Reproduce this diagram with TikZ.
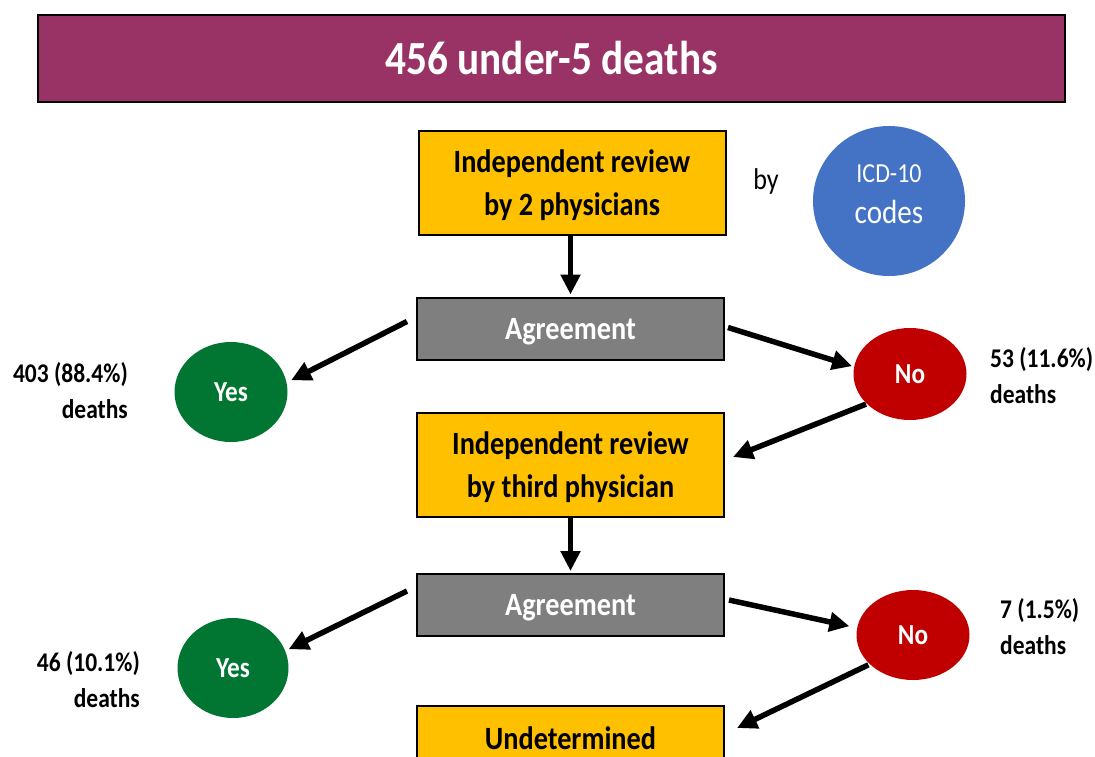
\documentclass[tikz,border=0pt]{standalone}
\usepackage{fontspec}
\setmainfont{Carlito}[FakeStretch=0.87]
\usetikzlibrary{shapes.geometric,arrows.meta}
\definecolor{plum}{RGB}{153,51,102}
\definecolor{amber}{RGB}{255,192,0}
\definecolor{midgray}{RGB}{127,127,127}
\definecolor{icdblue}{RGB}{68,114,196}
\definecolor{darkred}{RGB}{192,0,0}
\definecolor{okgreen}{RGB}{0,118,50}
\tikzset{
  stepbox/.style={draw=black, line width=2pt, fill=amber, minimum width=307pt, inner sep=0pt, align=center, text depth=0pt, font=\bfseries\fontsize{32.5}{43}\selectfont},
  agreebox/.style={draw=black, line width=2pt, fill=midgray, text=white, minimum width=307pt, minimum height=62pt, inner sep=0pt, text depth=0pt, font=\bfseries\fontsize{32.5}{43}\selectfont},
  roundnode/.style={ellipse, inner sep=0pt, text=white, font=\bfseries\fontsize{29}{34}\selectfont},
  countlabel/.style={inner sep=0pt, font=\bfseries\fontsize{27}{36}\selectfont},
  arr/.style={line width=5.5pt, -{Triangle[length=20pt,width=19pt]}},
}
\begin{document}
\begin{tikzpicture}[x=1pt,y=-1pt]
\clip (0,0) rectangle (1095,756);
\fill[white] (0,0) rectangle (1095,756);
% title
\node[draw=black, line width=2pt, fill=plum, text=white, minimum width=1027pt, minimum height=87pt, inner sep=0pt, font=\bfseries\fontsize{47.5}{55}\selectfont] (title) at (551.5,58.5) {456 under-5 deaths};
% first stage
\node[stepbox, minimum height=104pt] (box1) at (572,183) {Independent review\\by 2 physicians};
\node[inner sep=0pt, font=\fontsize{30}{34}\selectfont] (by) at (766,181) {by};
\node[roundnode, fill=icdblue, minimum width=152pt, minimum height=150pt,
  label={[yshift=7pt, inner sep=0pt, text=white, align=center, font=\fontsize{27.5}{41}\selectfont]center:ICD-10\\{\fontsize{33.5}{41}\selectfont codes}}] (icd) at (889,201) {};
\node[agreebox] (agree1) at (570.5,328.5) {Agreement};
\node[roundnode, fill=okgreen, minimum width=113pt, minimum height=100pt] (yes1) at (231,392) {Yes};
\node[roundnode, fill=darkred, minimum width=113pt, minimum height=92pt] (no1) at (910,374) {No};
\node[countlabel, anchor=east, align=right] (lab1) at (128,391) {403 (88.4\%)\\deaths};
\node[countlabel, anchor=west, align=left] (lab2) at (990,375.5) {53 (11.6\%)\\deaths};
% second stage
\node[stepbox, minimum height=104pt] (box2) at (570.5,465) {Independent review\\by third physician};
\node[agreebox] (agree2) at (570.5,605) {Agreement};
\node[roundnode, fill=okgreen, minimum width=111pt, minimum height=100pt] (yes2) at (233,668) {Yes};
\node[roundnode, fill=darkred, minimum width=113pt, minimum height=90pt] (no2) at (913,635) {No};
\node[countlabel, anchor=east, align=right] (lab3) at (140,680) {46 (10.1\%)\\deaths};
\node[countlabel, anchor=west, align=left] (lab4) at (1000,627) {7 (1.5\%)\\deaths};
% third stage
\node[stepbox, minimum height=64pt] (box3) at (570.5,738) {Undetermined};
% connectors
\draw[arr] (agree1.north |- box1.south) -- ([yshift=2pt]agree1.north);
\draw[arr] ([xshift=-9pt,yshift=7pt]agree1.west) -- ([xshift=5pt]yes1.12);
\draw[arr] ([xshift=3pt,yshift=1pt]agree1.east) -- ([xshift=-2pt]no1.172);
\draw[arr] ([xshift=-1pt]no1.215) -- ([xshift=8pt,yshift=8pt]box2.east);
\draw[arr] (agree2.north |- box2.south) -- ([yshift=2pt]agree2.north);
\draw[arr] ([xshift=-9pt,yshift=14pt]agree2.west) -- ([xshift=4pt]yes2.20);
\draw[arr] ([xshift=4pt,yshift=5pt]agree2.east) -- ([xshift=-8pt]no2.171);
\draw[arr] ([xshift=-2pt]no2.215) -- ([xshift=12pt,yshift=10pt]box3.east);
\end{tikzpicture}
\end{document}
